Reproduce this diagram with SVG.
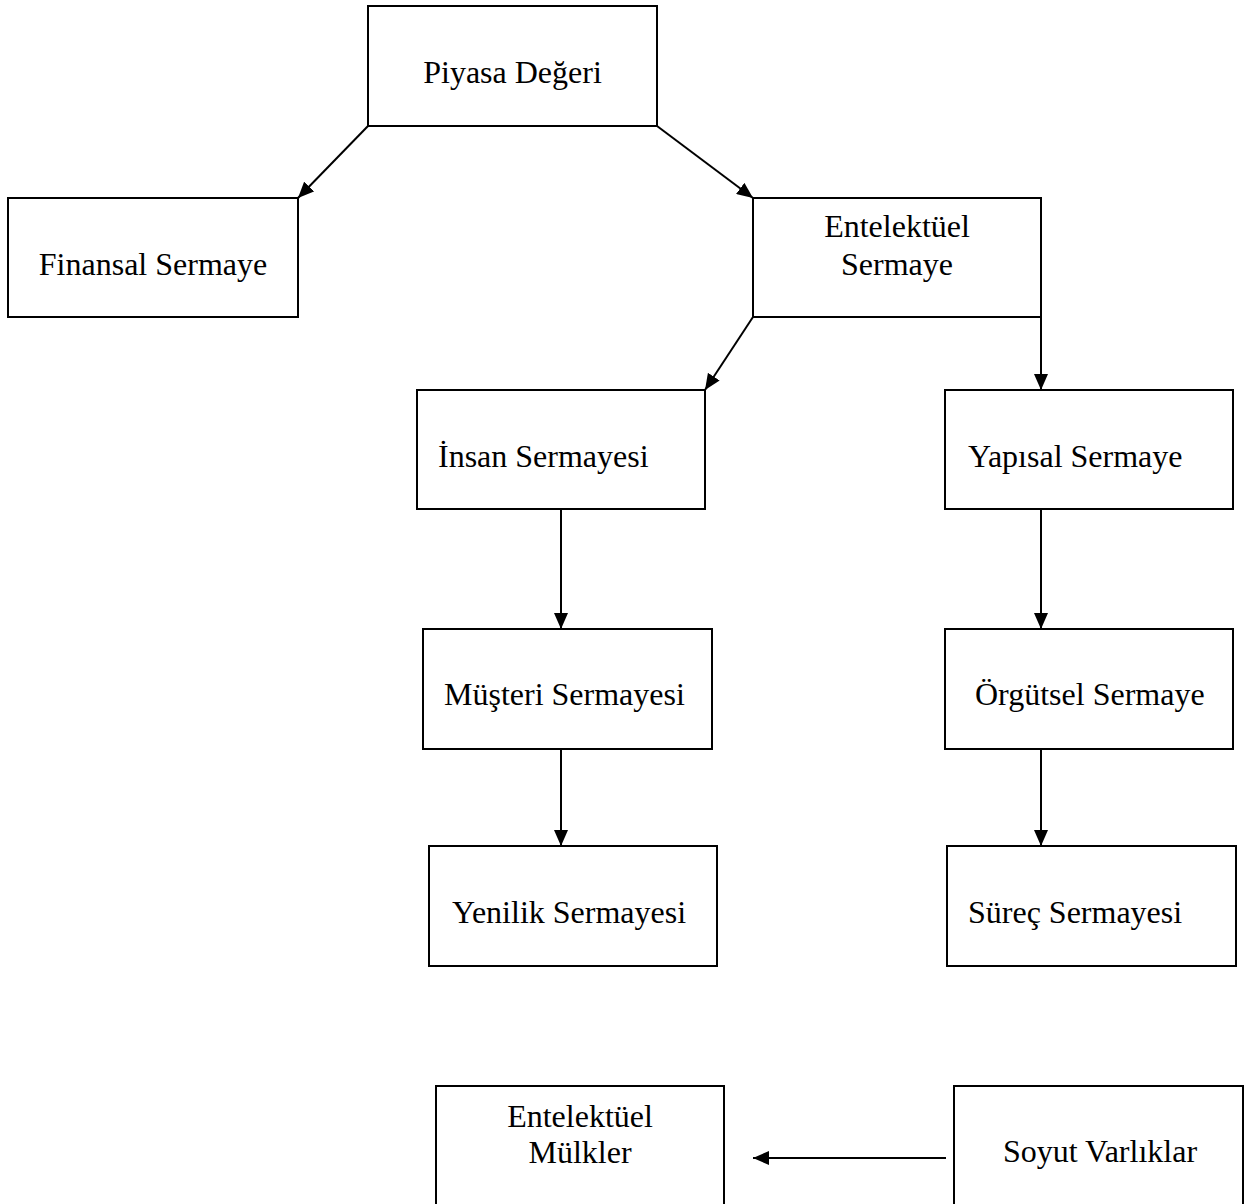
<svg xmlns="http://www.w3.org/2000/svg" width="1256" height="1204" viewBox="0 0 1256 1204">
  <style>
    .box { fill: #ffffff; stroke: #000000; stroke-width: 2; }
    .lbl { font-family: "Liberation Serif", "Times New Roman", serif; font-size: 32px; fill: #000000; }
    .mid { text-anchor: middle; }
    .edge { fill: none; stroke: #000000; stroke-width: 2; marker-end: url(#head); }
  </style>
  <defs>
    <marker id="head" markerUnits="userSpaceOnUse" markerWidth="16" markerHeight="14" refX="16" refY="7" orient="auto">
      <path d="M0,0 L16,7 L0,14 z" fill="#000000"/>
    </marker>
  </defs>
  <rect width="1256" height="1204" fill="#ffffff"/>

  <g id="connectors">
    <line class="edge" x1="368" y1="126" x2="298" y2="198"/>
    <line class="edge" x1="657" y1="126" x2="753" y2="198"/>
    <line class="edge" x1="753" y1="317" x2="705" y2="390"/>
    <line class="edge" x1="1041" y1="317" x2="1041" y2="390"/>
    <line class="edge" x1="561" y1="509" x2="561" y2="629"/>
    <line class="edge" x1="1041" y1="509" x2="1041" y2="629"/>
    <line class="edge" x1="561" y1="749" x2="561" y2="846"/>
    <line class="edge" x1="1041" y1="749" x2="1041" y2="846"/>
    <line class="edge" x1="946" y1="1158" x2="753" y2="1158"/>
  </g>

  <g id="piyasa-degeri">
    <rect class="box" x="368" y="6" width="289" height="120"/>
    <text class="lbl mid" x="512.5" y="83">Piyasa Değeri</text>
  </g>

  <g id="finansal-sermaye">
    <rect class="box" x="8" y="198" width="290" height="119"/>
    <text class="lbl mid" x="153" y="275">Finansal Sermaye</text>
  </g>

  <g id="entelektuel-sermaye">
    <rect class="box" x="753" y="198" width="288" height="119"/>
    <text class="lbl mid" x="897" y="237">Entelektüel</text>
    <text class="lbl mid" x="897" y="275">Sermaye</text>
  </g>

  <g id="insan-sermayesi">
    <rect class="box" x="417" y="390" width="288" height="119"/>
    <text class="lbl" x="438" y="467">İnsan Sermayesi</text>
  </g>

  <g id="yapisal-sermaye">
    <rect class="box" x="945" y="390" width="288" height="119"/>
    <text class="lbl" x="968" y="467">Yapısal Sermaye</text>
  </g>

  <g id="musteri-sermayesi">
    <rect class="box" x="423" y="629" width="289" height="120"/>
    <text class="lbl" x="444" y="705">Müşteri Sermayesi</text>
  </g>

  <g id="orgutsel-sermaye">
    <rect class="box" x="945" y="629" width="288" height="120"/>
    <text class="lbl" x="975" y="705">Örgütsel Sermaye</text>
  </g>

  <g id="yenilik-sermayesi">
    <rect class="box" x="429" y="846" width="288" height="120"/>
    <text class="lbl" x="452" y="923">Yenilik Sermayesi</text>
  </g>

  <g id="surec-sermayesi">
    <rect class="box" x="947" y="846" width="289" height="120"/>
    <text class="lbl" x="968" y="923">Süreç Sermayesi</text>
  </g>

  <g id="entelektuel-mulkler">
    <rect class="box" x="436" y="1086" width="288" height="130"/>
    <text class="lbl mid" x="580" y="1127">Entelektüel</text>
    <text class="lbl mid" x="580" y="1163">Mülkler</text>
  </g>

  <g id="soyut-varliklar">
    <rect class="box" x="954" y="1086" width="289" height="130"/>
    <text class="lbl mid" x="1100" y="1162">Soyut Varlıklar</text>
  </g>
</svg>
